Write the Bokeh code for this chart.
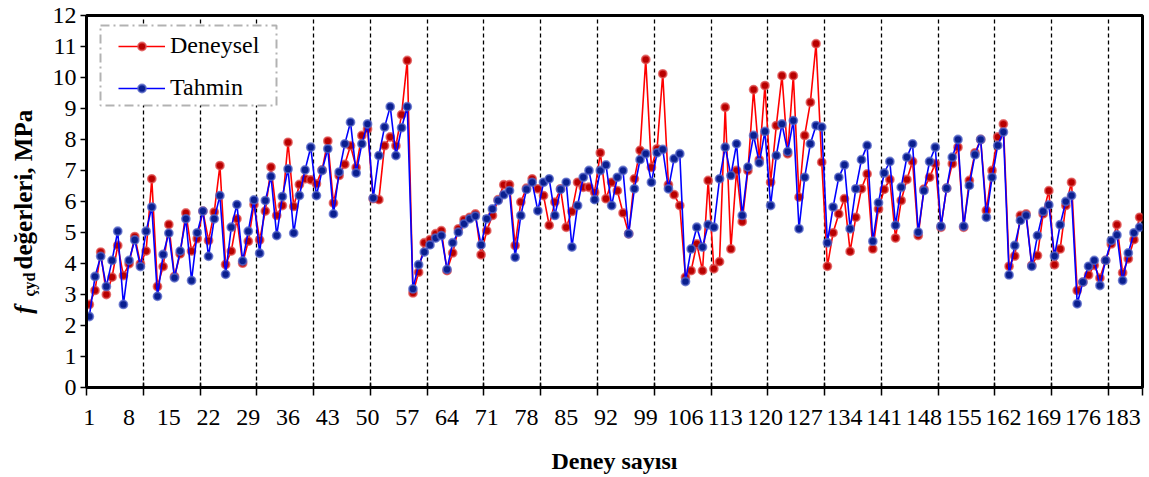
import math
from bokeh.plotting import figure
from bokeh.layouts import row
from bokeh.models import (FixedTicker, Legend, LegendItem, Label, BoxAnnotation,
                          ColumnDataSource, Range1d)
from bokeh.embed import file_html
from bokeh.resources import INLINE

# ---------------- data ----------------
deney_no = list(range(1, 187))

deneysel = [
    2.68, 3.13, 4.37, 3.00, 3.56, 4.58, 3.61, 3.99, 4.87, 3.99,
    4.40, 6.73, 3.26, 3.90, 5.26, 3.58, 4.31, 5.63, 4.40, 4.80,
    5.69, 4.74, 5.66, 7.16, 3.97, 4.40, 5.44, 4.01, 4.72, 5.90,
    4.76, 5.69, 7.11, 5.55, 5.87, 7.91, 5.84, 6.55, 6.73, 6.70,
    6.57, 7.02, 7.95, 5.95, 6.84, 7.20, 7.80, 7.10, 8.13, 8.34,
    6.09, 6.06, 7.80, 8.08, 7.80, 8.80, 10.55, 3.05, 3.72, 4.67,
    4.77, 4.96, 5.06, 3.77, 4.34, 5.12, 5.41, 5.49, 5.60, 4.28,
    5.06, 5.55, 6.06, 6.54, 6.54, 4.58, 5.98, 6.43, 6.73, 6.41,
    6.19, 5.23, 5.98, 6.41, 5.17, 5.68, 6.62, 6.46, 6.46, 6.30,
    7.57, 6.09, 6.62, 6.35, 5.63, 4.96, 6.73, 7.65, 10.58, 7.10,
    7.70, 10.12, 6.54, 6.22, 5.87, 3.56, 3.77, 4.63, 3.77, 6.68,
    3.83, 4.06, 9.04, 4.47, 7.00, 5.35, 7.00, 9.61, 7.35, 9.74,
    6.62, 8.45, 10.06, 7.54, 10.06, 6.14, 8.13, 9.20, 11.09, 7.27,
    3.91, 4.99, 5.60, 6.09, 4.39, 5.49, 6.41, 6.89, 4.47, 5.76,
    6.39, 6.71, 4.82, 6.03, 6.71, 7.29, 4.90, 6.40, 6.78, 7.22,
    5.17, 6.43, 7.22, 7.75, 5.17, 6.68, 7.57, 8.00, 5.71, 7.00,
    8.08, 8.50, 3.91, 4.24, 5.55, 5.60, 3.94, 4.26, 5.60, 6.35,
    3.96, 4.47, 5.87, 6.62, 3.13, 3.40, 3.63, 3.94, 3.53, 4.10,
    4.63, 5.25, 3.70, 4.15, 4.77, 5.49,
]

tahmin = [
    2.29, 3.58, 4.23, 3.26, 4.10, 5.04, 2.68, 4.10, 4.76, 3.90,
    5.04, 5.82, 2.94, 4.29, 4.98, 3.54, 4.40, 5.44, 3.45, 4.99,
    5.69, 4.23, 5.44, 6.19, 3.65, 5.17, 5.90, 4.08, 5.04, 6.05,
    4.33, 6.03, 6.81, 4.90, 6.16, 7.05, 4.98, 6.19, 7.02, 7.75,
    6.19, 7.00, 7.70, 5.60, 6.95, 7.86, 8.56, 6.92, 7.86, 8.50,
    6.11, 7.48, 8.40, 9.06, 7.48, 8.38, 9.06, 3.18, 3.96, 4.37,
    4.60, 4.82, 4.90, 3.81, 4.67, 5.01, 5.28, 5.44, 5.53, 4.60,
    5.44, 5.76, 6.03, 6.22, 6.35, 4.20, 5.55, 6.39, 6.62, 5.70,
    6.62, 6.73, 5.55, 6.39, 6.62, 4.53, 5.87, 6.78, 7.00, 6.06,
    7.00, 7.18, 5.87, 6.78, 7.00, 4.96, 6.41, 7.35, 7.54, 6.62,
    7.57, 7.68, 6.41, 7.38, 7.54, 3.42, 4.47, 5.17, 4.53, 5.25,
    5.17, 6.73, 7.75, 6.84, 7.86, 5.55, 7.11, 8.13, 7.25, 8.26,
    5.87, 7.48, 8.50, 7.61, 8.61, 5.12, 6.78, 7.86, 8.45, 8.40,
    4.67, 5.82, 6.78, 7.18, 5.12, 6.41, 7.35, 7.81, 4.72, 5.96,
    6.92, 7.29, 5.23, 6.46, 7.43, 7.86, 5.01, 6.35, 7.29, 7.75,
    5.20, 6.43, 7.43, 8.00, 5.20, 6.52, 7.51, 8.00, 5.49, 6.78,
    7.81, 8.24, 3.63, 4.58, 5.39, 5.55, 3.91, 4.90, 5.68, 5.89,
    4.24, 5.25, 6.00, 6.19, 2.70, 3.40, 3.91, 4.10, 3.29, 4.10,
    4.74, 4.92, 3.45, 4.34, 4.99, 5.17,
]

x_tick_labels = list(range(1, 187, 7))          # 1, 8, 15, ... 183
y_ticks = list(range(0, 13))
section_size = 10

n = len(deney_no)
bounds = [k * section_size + 0.5 for k in range(1, n // section_size + 1)]

FONT = "Liberation Serif"
H = 476
TITLE_W = 44
B_TOP, B_BOTTOM = 15, 89

src = ColumnDataSource(data=dict(x=deney_no, d=deneysel, t=tahmin))

p = figure(width=1104, height=H,
           x_range=Range1d(0.5, n + 0.5), y_range=Range1d(0, 12),
           output_backend="svg", toolbar_location=None,
           min_border_left=42, min_border_right=6,
           min_border_top=B_TOP, min_border_bottom=B_BOTTOM)

p.background_fill_color = "white"
p.border_fill_color = "white"
p.outline_line_color = "black"
p.outline_line_width = 3

# grid: vertical dashed section lines only
p.ygrid.grid_line_color = None
p.xgrid.ticker = FixedTicker(ticks=bounds)
p.xgrid.grid_line_color = "black"
p.xgrid.grid_line_dash = "4 3"
p.xgrid.grid_line_width = 1.3

# x axis
p.xaxis.ticker = FixedTicker(ticks=x_tick_labels,
                             minor_ticks=[0.5] + bounds + [n + 0.5])
p.xaxis.major_tick_line_color = None
p.xaxis.major_tick_out = 0
p.xaxis.major_tick_in = 0
p.xaxis.minor_tick_line_color = "black"
p.xaxis.minor_tick_line_width = 1.5
p.xaxis.minor_tick_in = 5
p.xaxis.minor_tick_out = 8
p.xaxis.axis_line_width = 3
p.xaxis.axis_line_color = "black"
p.xaxis.major_label_standoff = 14
p.xaxis.major_label_text_font = FONT
p.xaxis.major_label_text_font_size = "24px"
p.xaxis.major_label_text_color = "black"
p.xaxis.axis_label = "Deney sayısı"
p.xaxis.axis_label_text_font = FONT
p.xaxis.axis_label_text_font_style = "bold"
p.xaxis.axis_label_text_font_size = "24px"
p.xaxis.axis_label_text_color = "black"
p.xaxis.axis_label_standoff = 20

# y axis
p.yaxis.ticker = FixedTicker(ticks=y_ticks)
p.yaxis.minor_tick_line_color = None
p.yaxis.major_tick_in = 0
p.yaxis.major_tick_out = 6
p.yaxis.major_tick_line_width = 1.5
p.yaxis.major_tick_line_color = "black"
p.yaxis.axis_line_width = 3
p.yaxis.axis_line_color = "black"
p.yaxis.major_label_standoff = 4
p.yaxis.major_label_text_font = FONT
p.yaxis.major_label_text_font_size = "24px"
p.yaxis.major_label_text_color = "black"

# series
r_d_line = p.line("x", "d", source=src, line_color="#FF0000", line_width=1.6)
r_d_pt = p.scatter("x", "d", source=src, size=8, fill_color="#B80000",
                   line_color="#E05050", line_alpha=0.75, line_width=1.8)
r_t_line = p.line("x", "t", source=src, line_color="#0000FF", line_width=1.6)
r_t_pt = p.scatter("x", "t", source=src, size=8, fill_color="#0A1F8F",
                   line_color="#5566C8", line_alpha=0.75, line_width=1.8)

# legend box (dash-dot) and legend
box = BoxAnnotation(left=14, right=190, bottom=282, top=362,
                    left_units="screen", right_units="screen",
                    top_units="screen", bottom_units="screen",
                    fill_color="white", fill_alpha=1.0,
                    line_color="black", line_width=2, line_dash="9 4 2 4")
p.add_layout(box)

legend = Legend(items=[LegendItem(label="Deneysel", renderers=[r_d_line, r_d_pt]),
                       LegendItem(label="Tahmin", renderers=[r_t_line, r_t_pt])],
                location=(32, 286), padding=0, margin=0, spacing=15,
                border_line_color=None, background_fill_alpha=0,
                glyph_width=47, glyph_height=20, label_standoff=5,
                label_text_font=FONT, label_text_font_size="24px",
                label_text_color="black")
p.add_layout(legend)

# ---- y axis title in a narrow strip figure (f italic, subscript çyd, bold rest)
# strip frame is aligned with the main frame; its y data = pixels from page bottom
t = figure(width=TITLE_W, height=H, x_range=Range1d(0, TITLE_W),
           y_range=Range1d(B_BOTTOM, H - B_TOP),
           output_backend="svg", toolbar_location=None,
           x_axis_location=None, y_axis_location=None,
           min_border_left=0, min_border_right=0,
           min_border_top=B_TOP, min_border_bottom=B_BOTTOM)
t.outline_line_color = None
t.grid.visible = False
t.background_fill_color = "white"
t.border_fill_color = "white"

t.add_layout(Label(x=23, y=H - 309, text="f",
                   angle=math.pi / 2, text_font=FONT, text_font_style="bold italic",
                   text_font_size="25px", text_align="center",
                   text_baseline="middle", text_color="black"))
t.add_layout(Label(x=29, y=H - 284, text="çyd",
                   angle=math.pi / 2, text_font=FONT, text_font_style="bold",
                   text_font_size="16px", text_align="center",
                   text_baseline="middle", text_color="black"))
t.add_layout(Label(x=23, y=H - 186, text="değerleri,  MPa",
                   angle=math.pi / 2, text_font=FONT, text_font_style="bold",
                   text_font_size="25px", text_align="center",
                   text_baseline="middle", text_color="black"))

layout = row(t, p, spacing=0)
open("out.html", "w").write(file_html(layout, INLINE))
